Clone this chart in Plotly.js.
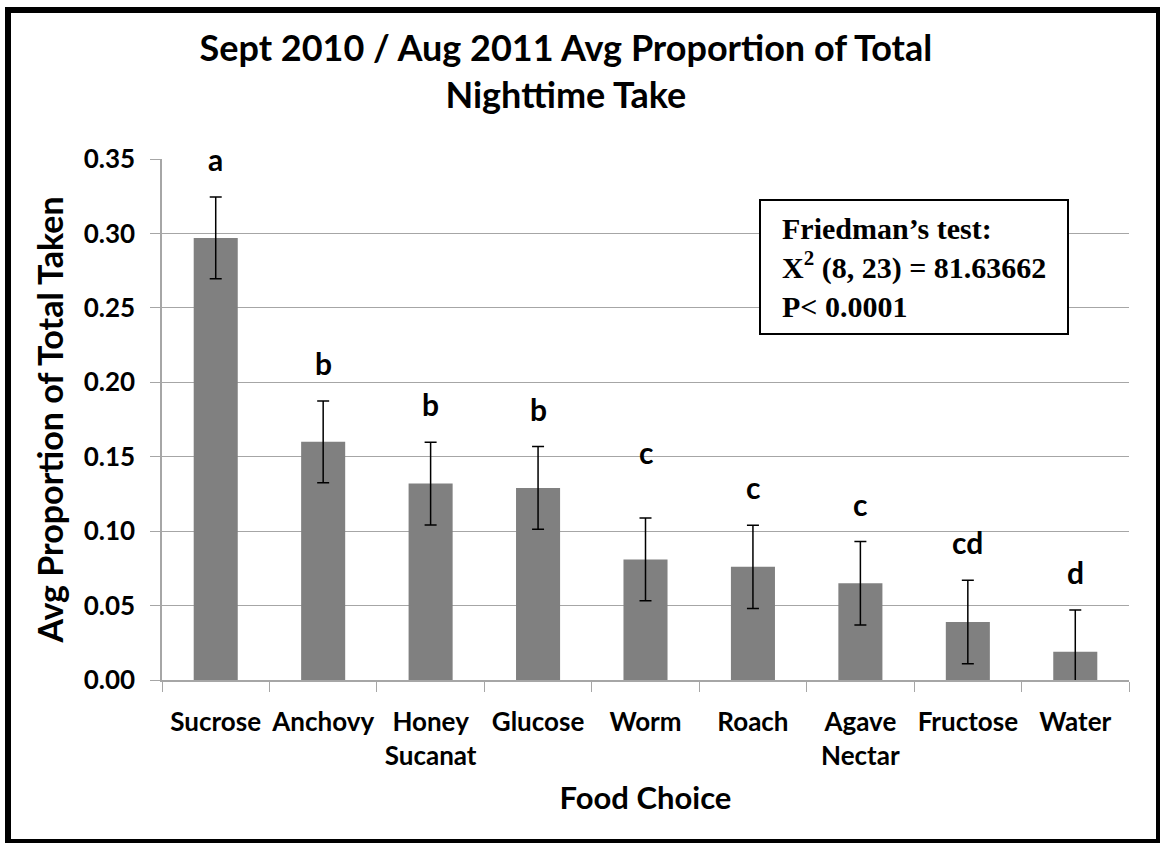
<!DOCTYPE html>
<html>
<head>
<meta charset="utf-8">
<script src="https://cdn.plot.ly/plotly-3.0.1.min.js"></script>
<style>
  html, body { margin: 0; padding: 0; background: #ffffff; }
  #chart { width: 1162px; height: 844px; }
</style>
</head>
<body>
<div id="chart"></div>
<script>
// ---- data ----
const categories = ["Sucrose", "Anchovy", "Honey<br>Sucanat", "Glucose", "Worm", "Roach", "Agave<br>Nectar", "Fructose", "Water"];
const avgProportion = [0.297, 0.160, 0.132, 0.129, 0.081, 0.076, 0.065, 0.039, 0.019];
const stdError = [0.0275, 0.0275, 0.0278, 0.0278, 0.0278, 0.0280, 0.0280, 0.0280, 0.0280];
const groupLetters = ["a", "b", "b", "b", "c", "c", "c", "cd", "d"];
const yTicks = [0, 0.05, 0.10, 0.15, 0.20, 0.25, 0.30, 0.35];
const testText = ["Friedman\u2019s test:", "X<sup>2</sup> (8, 23) = 81.63662", "P< 0.0001"];

const W = 1162, H = 844;
const M = { l: 162, r: 33, t: 159, b: 164 };
const pw = W - M.l - M.r, ph = H - M.t - M.b;
const px2x = p => (p - M.l) / pw;
const py2y = p => (H - M.b - p) / ph;

const sansBold = "Lato, 'Open Sans', sans-serif";

const bar = {
  type: "bar",
  x: categories,
  y: avgProportion,
  marker: { color: "#808080", line: { width: 0 } },
  width: 0.41,
  error_y: { type: "data", array: stdError, visible: true, color: "#000000", thickness: 1.5, width: 6 },
  hoverinfo: "x+y",
  showlegend: false
};

// letters sit just above each error bar; Worm's label sits a bit higher in the original
const letterLift = { 4: 0.019 };
const letterAnnotations = groupLetters.map((t, i) => ({
  x: categories[i],
  y: avgProportion[i] + stdError[i] + 0.012 + (letterLift[i] || 0),
  xref: "x", yref: "y",
  text: "<b>" + t + "</b>",
  showarrow: false,
  yanchor: "bottom",
  font: { family: sansBold, size: 30, color: "#000" }
}));

// statistics box: white rectangle with black border, text inside
const boxL = 760, boxT = 200, boxR = 1068, boxB = 334;
const boxShape = {
  type: "rect", xref: "paper", yref: "paper",
  x0: px2x(boxL), x1: px2x(boxR), y0: py2y(boxB), y1: py2y(boxT),
  line: { color: "#000000", width: 2 }, fillcolor: "#ffffff", layer: "above"
};
const boxAnnotation = {
  xref: "paper", yref: "paper",
  x: px2x(boxL + 20), y: py2y((boxT + boxB) / 2),
  xanchor: "left", yanchor: "middle",
  align: "left",
  text: testText.map(s => "<b>" + s + "</b>").join("<br>"),
  showarrow: false,
  font: { family: "'Liberation Serif', 'Times New Roman', serif", size: 30, color: "#000" }
};

const frame = (x0, y0, x1, y1, w) => ({
  type: "line", xref: "paper", yref: "paper",
  x0: px2x(x0), x1: px2x(x1), y0: py2y(y0), y1: py2y(y1),
  line: { color: "#000000", width: w }, layer: "above"
});

const layout = {
  width: W, height: H,
  margin: M,
  paper_bgcolor: "#ffffff",
  plot_bgcolor: "#ffffff",
  bargap: 0.59,
  title: {
    text: "<b>Sept 2010 / Aug 2011 Avg Proportion of Total<br>Nighttime Take</b>",
    font: { family: sansBold, size: 36, color: "#000" },
    x: 0.487, xanchor: "center",
    y: 0.928, yanchor: "top"
  },
  xaxis: {
    type: "category",
    tickson: "boundaries",
    tickangle: 0,
    ticks: "outside", ticklen: 10, tickcolor: "#a6a6a6", tickwidth: 1,
    ticklabelstandoff: 18,
    showline: true, linecolor: "#a6a6a6", linewidth: 1.5,
    showgrid: false,
    tickfont: { family: sansBold, size: 26, color: "#000", weight: "bold" },
    title: { text: "<b>Food Choice</b>", font: { family: sansBold, size: 31, color: "#000" }, standoff: 18 },
    fixedrange: true
  },
  yaxis: {
    range: [0, 0.35],
    tickvals: yTicks,
    tickformat: ".2f",
    ticks: "outside", ticklen: 10, tickcolor: "#a6a6a6", tickwidth: 1,
    ticklabelstandoff: 10,
    showline: true, linecolor: "#a6a6a6", linewidth: 1.5,
    showgrid: true, gridcolor: "#a6a6a6", gridwidth: 1,
    zeroline: false,
    tickfont: { family: sansBold, size: 26, color: "#000", weight: "bold" },
    title: { text: "<b>Avg Proportion of Total Taken</b>", font: { family: sansBold, size: 34, color: "#000" }, standoff: 10 },
    fixedrange: true
  },
  annotations: letterAnnotations.concat([boxAnnotation]),
  shapes: [
    boxShape,
    frame(8, 7, 8, 843, 6),
    frame(5, 10, 1160, 10, 6),
    frame(1158, 8, 1158, 843, 4),
    frame(5, 841, 1160, 841, 4)
  ]
};

Plotly.newPlot("chart", [bar], layout, { displayModeBar: false });
</script>
</body>
</html>
